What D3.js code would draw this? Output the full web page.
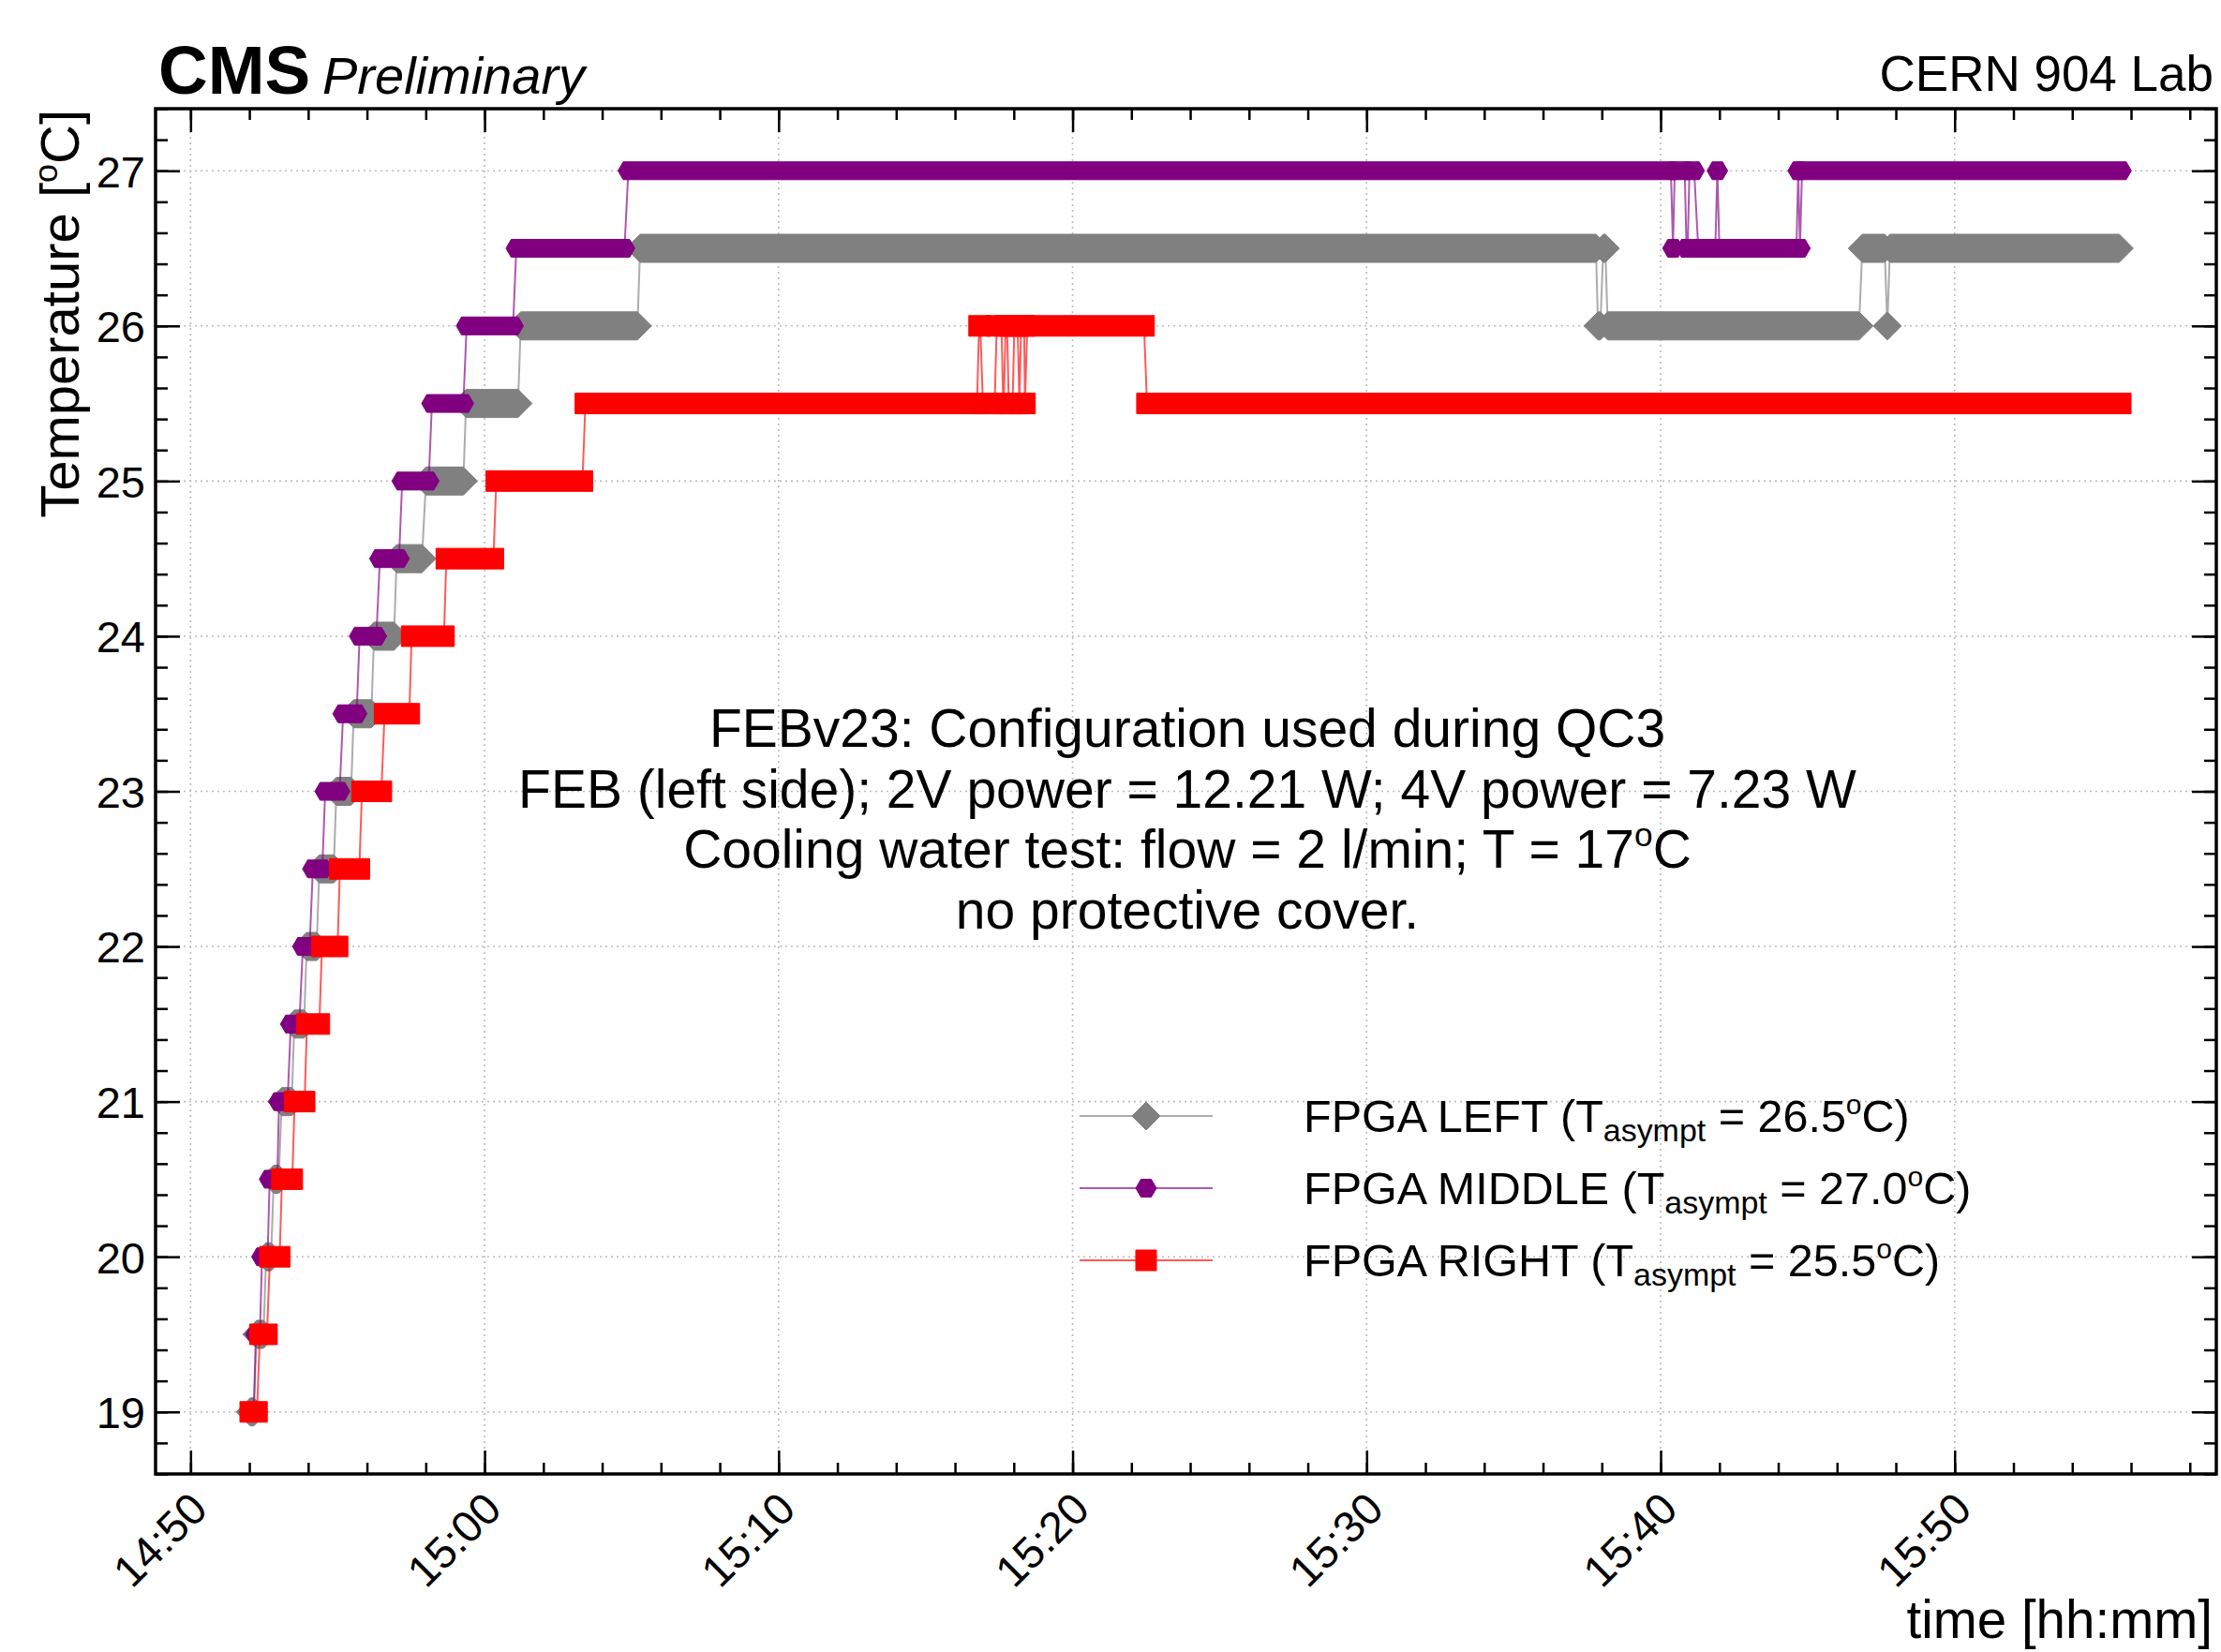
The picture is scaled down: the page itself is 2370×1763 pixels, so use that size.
<!DOCTYPE html>
<html>
<head>
<meta charset="utf-8">
<script src="https://cdn.jsdelivr.net/npm/d3@7"></script>
<style>
  body { margin: 0; background: #fff; }
  text { font-family: "Liberation Sans", Arial, Helvetica, sans-serif; fill: #000; }
</style>
</head>
<body>
<script>
// time is given in minutes after 14:50, temperatures in degC
// each series is stored as runs of constant readings: start, end, value
var LEFT_START = [2.03, 2.25, 2.57, 2.83, 3.10, 3.53, 3.95, 4.38, 4.96, 5.55, 6.24, 7.01, 8.01, 9.37, 11.23, 15.29, 47.87, 48.05, 48.20, 56.86, 57.71, 57.80];
var LEFT_END   = [2.15, 2.48, 2.74, 3.00, 3.44, 3.86, 4.29, 4.87, 5.46, 6.15, 6.92, 7.87, 9.28, 11.14, 15.20, 47.80, 47.95, 48.12, 56.75, 57.62, 57.71, 65.60];
var LEFT_TEMP  = [19.0, 19.5, 20.0, 20.5, 21.0, 21.5, 22.0, 22.5, 23.0, 23.5, 24.0, 24.5, 25.0, 25.5, 26.0, 26.5, 26.0, 26.5, 26.0, 26.5, 26.0, 26.5];

var MID_START = [2.03, 2.22, 2.43, 2.69, 3.01, 3.41, 3.82, 4.16, 4.58, 5.19, 5.75, 6.44, 7.20, 8.21, 9.39, 11.08, 14.89, 50.42, 50.48, 50.88, 50.98, 51.28, 51.93, 52.00, 54.68, 54.74, 54.81];
var MID_END   = [2.15, 2.36, 2.62, 2.95, 3.30, 3.70, 4.05, 4.48, 5.07, 5.65, 6.32, 7.09, 8.10, 9.28, 10.97, 14.76, 50.35, 50.42, 50.82, 50.92, 51.14, 51.86, 51.93, 54.62, 54.68, 54.74, 65.66];
var MID_TEMP  = [19.0, 19.5, 20.0, 20.5, 21.0, 21.5, 22.0, 22.5, 23.0, 23.5, 24.0, 24.5, 25.0, 25.5, 26.0, 26.5, 27.0, 26.5, 27.0, 26.5, 27.0, 26.5, 27.0, 26.5, 27.0, 26.5, 27.0];

var RIGHT_START = [2.03, 2.36, 2.70, 3.11, 3.54, 3.96, 4.47, 5.08, 5.83, 6.60, 7.52, 8.70, 10.40, 13.43, 26.82, 26.95, 27.42, 27.64, 27.72, 27.83, 28.02, 28.19, 28.25, 28.38, 28.46, 32.53];
var RIGHT_END   = [2.26, 2.60, 3.03, 3.46, 3.88, 4.38, 5.00, 5.74, 6.49, 7.44, 8.62, 10.30, 13.33, 26.75, 26.86, 27.35, 27.58, 27.66, 27.77, 27.96, 28.13, 28.19, 28.35, 28.38, 32.43, 65.65];
var RIGHT_TEMP  = [19.0, 19.5, 20.0, 20.5, 21.0, 21.5, 22.0, 22.5, 23.0, 23.5, 24.0, 24.5, 25.0, 25.5, 26.0, 25.5, 26.0, 25.5, 26.0, 25.5, 26.0, 25.5, 26.0, 25.5, 26.0, 25.5];

var SERIES_NAMES  = ["FPGA LEFT", "FPGA MIDDLE", "FPGA RIGHT"];
var SERIES_ASYMPT = ["26.5", "27.0", "25.5"];
var SERIES_COLORS = ["#808080", "#800080", "#ff0000"];
var SERIES_SHAPES = ["diamond", "hexagon", "square"];

var X_TICKS = [0, 10, 20, 30, 40, 50, 60];
var X_MINOR = d3.range(0, 69, 2);
var Y_TICKS = [19, 20, 21, 22, 23, 24, 25, 26, 27];
var Y_MINOR = d3.range(18.6, 27.41, 0.2);

var NOTE_LINES = [
  [["FEBv23: Configuration used during QC3"]],
  [["FEB (left side); 2V power = 12.21 W; 4V power = 7.23 W"]],
  [["Cooling water test: flow = 2 l/min; T = 17"], ["o", "sup"], ["C"]],
  [["no protective cover."]]
];

var W = 2370, H = 1763;
var frame = { left: 166, right: 2365, top: 116, bottom: 1573 };

var BASE = new Date(2024, 0, 1, 14, 50, 0);
function at(m) { return new Date(BASE.getTime() + m * 60000); }

var svg = d3.select("body").append("svg").attr("width", W).attr("height", H);
svg.append("rect").attr("width", W).attr("height", H).attr("fill", "#fff");

var x = d3.scaleTime().domain([at(-1.19), at(68.9)]).range([frame.left, frame.right]);
var y = d3.scaleLinear().domain([18.6, 27.4]).range([frame.bottom, frame.top]);

// grid
var grid = svg.append("g").attr("stroke", "#bdbdbd").attr("stroke-width", 1.6).attr("stroke-dasharray", "2,4");
grid.selectAll(".gx").data(X_TICKS).enter().append("line")
  .attr("x1", function (d) { return x(at(d)); }).attr("x2", function (d) { return x(at(d)); })
  .attr("y1", frame.top).attr("y2", frame.bottom);
grid.selectAll(".gy").data(Y_TICKS).enter().append("line")
  .attr("y1", function (d) { return y(d); }).attr("y2", function (d) { return y(d); })
  .attr("x1", frame.left).attr("x2", frame.right);

// markers swept along a run of equal readings
function runPath(shape, x0, x1, yy) {
  var r;
  if (shape === "diamond") {
    r = 15;
    return "M" + (x0 - r) + "," + yy + "L" + x0 + "," + (yy - r) + "L" + x1 + "," + (yy - r) + "L" + (x1 + r) + "," + yy +
      "L" + x1 + "," + (yy + r) + "L" + x0 + "," + (yy + r) + "Z";
  } else if (shape === "hexagon") {
    r = 11;
    var h = r * Math.sqrt(3) / 2;
    return "M" + (x0 - r) + "," + yy + "L" + (x0 - r / 2) + "," + (yy - h) + "L" + (x1 + r / 2) + "," + (yy - h) +
      "L" + (x1 + r) + "," + yy + "L" + (x1 + r / 2) + "," + (yy + h) + "L" + (x0 - r / 2) + "," + (yy + h) + "Z";
  }
  r = 11;
  return "M" + (x0 - r) + "," + (yy - r) + "H" + (x1 + r) + "V" + (yy + r) + "H" + (x0 - r) + "Z";
}

var seriesRuns = [
  [LEFT_START, LEFT_END, LEFT_TEMP],
  [MID_START, MID_END, MID_TEMP],
  [RIGHT_START, RIGHT_END, RIGHT_TEMP]
];

var line = d3.line().x(function (d) { return x(at(d[0])); }).y(function (d) { return y(d[1]); });

seriesRuns.forEach(function (s, k) {
  var runs = s[0].map(function (t0, i) { return { t0: t0, t1: s[1][i], v: s[2][i] }; });
  var pts = [];
  runs.forEach(function (r) { pts.push([r.t0, r.v]); pts.push([r.t1, r.v]); });
  var g = svg.append("g").attr("class", "series");
  g.append("path").attr("d", line(pts)).attr("fill", "none")
    .attr("stroke", SERIES_COLORS[k]).attr("stroke-opacity", 0.65).attr("stroke-width", 2);
  g.selectAll(".run").data(runs).enter().append("path").attr("class", "run")
    .attr("d", function (d) { return runPath(SERIES_SHAPES[k], x(at(d.t0)), x(at(d.t1)), y(d.v)); })
    .attr("fill", SERIES_COLORS[k]).attr("stroke", SERIES_COLORS[k]).attr("stroke-width", 1);
});

// axes, ticks pointing inwards on all four sides
function styleAxis(g) {
  g.select(".domain").remove();
  g.selectAll(".tick line").attr("stroke", "#000").attr("stroke-width", 2.5);
}
var xMajor = X_TICKS.map(at), xMinor = X_MINOR.map(at);

svg.append("g").attr("transform", "translate(0," + frame.bottom + ")")
  .call(d3.axisBottom(x).tickValues(xMinor).tickSize(-12).tickFormat("")).call(styleAxis);
svg.append("g").attr("transform", "translate(0," + frame.top + ")")
  .call(d3.axisTop(x).tickValues(xMinor).tickSize(-12).tickFormat("")).call(styleAxis);
svg.append("g").attr("transform", "translate(0," + frame.top + ")")
  .call(d3.axisTop(x).tickValues(xMajor).tickSize(-25).tickFormat("")).call(styleAxis);
var xAxis = svg.append("g").attr("transform", "translate(0," + frame.bottom + ")")
  .call(d3.axisBottom(x).tickValues(xMajor).tickSize(-25).tickFormat(d3.timeFormat("%H:%M"))).call(styleAxis);
xAxis.selectAll(".tick text").attr("y", null).attr("dy", null).attr("text-anchor", "end")
  .attr("font-size", 47).attr("font-family", null)
  .attr("transform", "translate(20,40) rotate(-45)");

svg.append("g").attr("transform", "translate(" + frame.left + ",0)")
  .call(d3.axisLeft(y).tickValues(Y_MINOR).tickSize(-13).tickFormat("")).call(styleAxis);
svg.append("g").attr("transform", "translate(" + frame.right + ",0)")
  .call(d3.axisRight(y).tickValues(Y_MINOR).tickSize(-13).tickFormat("")).call(styleAxis);
svg.append("g").attr("transform", "translate(" + frame.right + ",0)")
  .call(d3.axisRight(y).tickValues(Y_TICKS).tickSize(-26).tickPadding(11).tickFormat("")).call(styleAxis);
var yAxis = svg.append("g").attr("transform", "translate(" + frame.left + ",0)")
  .call(d3.axisLeft(y).tickValues(Y_TICKS).tickSize(-26).tickPadding(11).tickFormat(d3.format("d"))).call(styleAxis);
yAxis.selectAll(".tick text").attr("font-size", 47).attr("font-family", null).attr("dy", "0.36em");

svg.append("rect").attr("x", frame.left).attr("y", frame.top)
  .attr("width", frame.right - frame.left).attr("height", frame.bottom - frame.top)
  .attr("fill", "none").attr("stroke", "#000").attr("stroke-width", 3.5);

// text with sub/superscripts
function rich(sel, parts, fs) {
  var off = 0;
  parts.forEach(function (p) {
    var target = p[1] === "sub" ? fs * 0.2 : p[1] === "sup" ? -fs * 0.4 : 0;
    sel.append("tspan").attr("dy", target - off).attr("font-size", p[1] === "sub" ? fs * 0.7 : p[1] ? fs * 0.62 : fs).text(p[0]);
    off = target;
  });
}

// labels
svg.append("text").attr("x", 169).attr("y", 100).attr("font-size", 73).attr("font-weight", "bold").text("CMS");
svg.append("text").attr("x", 344).attr("y", 100).attr("font-size", 56).attr("font-style", "italic").text("Preliminary");
svg.append("text").attr("x", 2362).attr("y", 97).attr("font-size", 53).attr("text-anchor", "end").text("CERN 904 Lab");

svg.append("text").attr("x", 2361).attr("y", 1748).attr("font-size", 56.5).attr("text-anchor", "end").text("time [hh:mm]");
var yl = svg.append("text").attr("text-anchor", "end").attr("font-size", 58)
  .attr("transform", "translate(84," + (frame.top + 1) + ") rotate(-90)");
rich(yl, [["Temperature ["], ["o", "sup"], ["C]"]], 58);

// note
NOTE_LINES.forEach(function (parts, i) {
  var t = svg.append("text").attr("x", 1267).attr("y", 797 + i * 64.5).attr("text-anchor", "middle");
  rich(t, parts, 57);
});

// legend
var legend = svg.append("g").attr("id", "legend");
SERIES_NAMES.forEach(function (name, k) {
  var ly = 1191 + k * 77;
  legend.append("line").attr("x1", 1152).attr("x2", 1294).attr("y1", ly).attr("y2", ly)
    .attr("stroke", SERIES_COLORS[k]).attr("stroke-opacity", 0.65).attr("stroke-width", 2);
  legend.append("path").attr("d", runPath(SERIES_SHAPES[k], 1223, 1223, ly))
    .attr("fill", SERIES_COLORS[k]).attr("stroke", SERIES_COLORS[k]).attr("stroke-width", 1);
  var t = legend.append("text").attr("x", 1391).attr("y", ly + 17);
  rich(t, [[name + " (T"], ["asympt", "sub"], [" = " + SERIES_ASYMPT[k]], ["o", "sup"], ["C)"]], 48.5);
});
</script>
</body>
</html>
